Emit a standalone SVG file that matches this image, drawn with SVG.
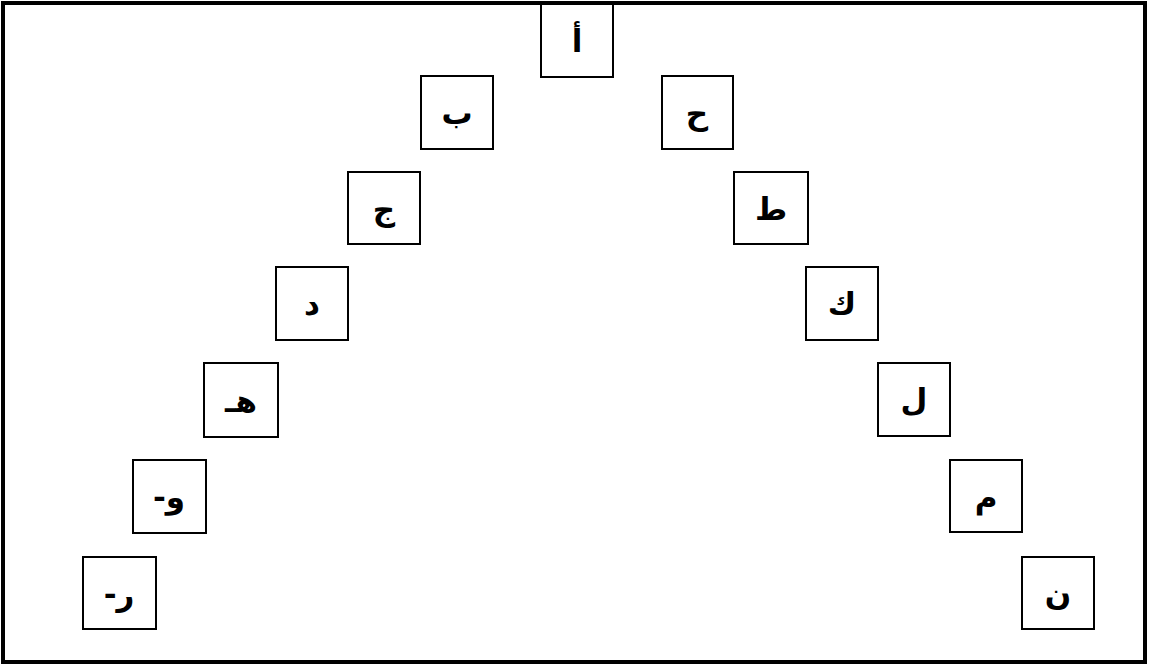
<svg xmlns="http://www.w3.org/2000/svg" width="1149" height="666" viewBox="0 0 1149 666">
<style>
.b{fill:#fff;stroke:#000;stroke-width:2}
.t{font-family:"DejaVu Sans","Noto Sans",sans-serif;font-weight:bold;font-size:31px;text-anchor:middle;fill:#000}
</style>
<rect x="0" y="0" width="1149" height="666" fill="#fff"/>
<rect x="3" y="3" width="1142" height="659" fill="none" stroke="#000" stroke-width="4"/>
<g id="connectors"></g>
<g id="n1"><rect class="b" x="541" y="4" width="72" height="73"/><text class="t" x="577" y="52">أ</text></g>
<g id="n2"><rect class="b" x="421" y="76" width="72" height="73"/><text class="t" x="457" y="124">ب</text></g>
<g id="n3"><rect class="b" x="348" y="172" width="72" height="72"/><text class="t" x="384" y="220">ج</text></g>
<g id="n4"><rect class="b" x="276" y="267" width="72" height="73"/><text class="t" x="312" y="315">د</text></g>
<g id="n5"><rect class="b" x="204" y="363" width="74" height="74"/><text class="t" x="241" y="412">هـ</text></g>
<g id="n6"><rect class="b" x="133" y="460" width="73" height="73"/><text class="t" x="169" y="508">-و</text></g>
<g id="n7"><rect class="b" x="83" y="557" width="73" height="72"/><text class="t" x="119" y="605">-ر</text></g>
<g id="n8"><rect class="b" x="662" y="76" width="71" height="73"/><text class="t" x="697" y="124">ح</text></g>
<g id="n9"><rect class="b" x="734" y="172" width="74" height="72"/><text class="t" x="771" y="220">ط</text></g>
<g id="n10"><rect class="b" x="806" y="267" width="72" height="73"/><text class="t" x="842" y="315">ك</text></g>
<g id="n11"><rect class="b" x="878" y="363" width="72" height="73"/><text class="t" x="914" y="411">ل</text></g>
<g id="n12"><rect class="b" x="950" y="460" width="72" height="72"/><text class="t" x="986" y="508">م</text></g>
<g id="n13"><rect class="b" x="1022" y="557" width="72" height="72"/><text class="t" x="1058" y="605">ن</text></g>
</svg>
